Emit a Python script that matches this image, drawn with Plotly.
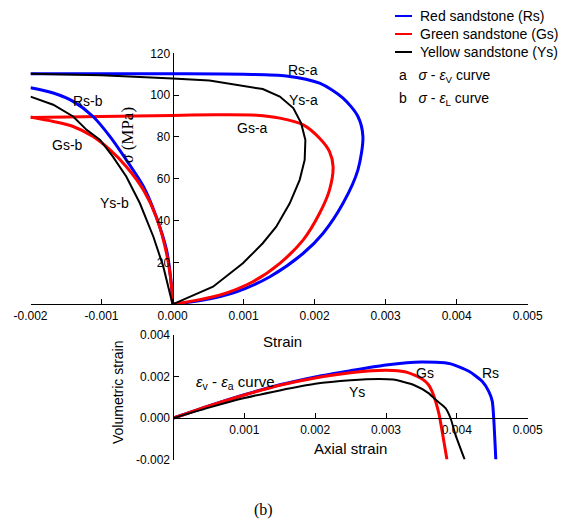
import plotly.graph_objects as go

W, H = 584, 526

# ---------------- data ----------------
# Top: stress vs volumetric strain (a) and lateral strain (b)
rs_a_strain = [0, 0.00043, 0.0009, 0.00137, 0.00184, 0.00212, 0.0024, 0.00261, 0.00268, 0.00261, 0.0024, 0.00207, 0.0016, 0.001, 0.0, -0.001, -0.002]
rs_a_stress = [0, 2, 6, 13.2, 24.4, 34, 48.3, 64.3, 80.2, 89.8, 98.6, 105.7, 109.2, 110.0, 110.2, 110.2, 110.2]

gs_a_strain = [0, 0.00066, 0.00113, 0.00151, 0.00184, 0.00207, 0.00221, 0.00226, 0.00221, 0.00207, 0.00184, 0.00151, 0.00118, 0.0006, 0.0, -0.001, -0.002]
gs_a_stress = [0, 4.4, 10.8, 19.6, 30.8, 43.5, 54.7, 65.8, 73.0, 79.4, 85.8, 89.0, 90.4, 90.6, 90.3, 89.8, 89.3]

ys_a_strain = [0, 0.0002, 0.00057, 0.00099, 0.00127, 0.00146, 0.00165, 0.00179, 0.00186, 0.00187, 0.00181, 0.0017, 0.00151, 0.00127, 0.0009, 0.00052, 0.0, -0.001, -0.002]
ys_a_stress = [0, 2.9, 8.4, 19.6, 29.2, 37.1, 48.3, 59.5, 69.0, 78.6, 86.6, 93.8, 99.3, 102.9, 104.9, 107.0, 108.0, 109.5, 110.2]

rs_b_strain = [0, -0.000014, -0.000085, -0.00023, -0.00041, -0.00065, -0.00088, -0.00112, -0.0014, -0.00168, -0.002]
rs_b_stress = [0, 8.4, 26.0, 41.9, 56.3, 69.0, 80.2, 89.8, 97.0, 101.0, 103.5]

gs_b_strain = [0, -0.000014, -0.000085, -0.00023, -0.00041, -0.00065, -0.00088, -0.00112, -0.0014, -0.00168, -0.002]
gs_b_stress = [0, 8.4, 24.4, 41.9, 54.7, 65.8, 73.8, 80.2, 85.0, 87.4, 89.5]

ys_b_strain = [0, -0.00004, -0.00013, -0.00027, -0.00046, -0.00065, -0.00084, -0.00102, -0.00121, -0.0014, -0.00168, -0.002]
ys_b_stress = [0, 5.3, 18.0, 32.3, 48.3, 61.0, 70.6, 78.6, 83.4, 89.8, 95.4, 99.3]

# Bottom: volumetric strain vs axial strain
rs_ea = [0, 0.0005, 0.001, 0.0015, 0.002, 0.0025, 0.003, 0.0035, 0.0039, 0.00417, 0.00436, 0.00445, 0.0045, 0.00452, 0.00455]
rs_ev = [0, 0.00058, 0.00112, 0.0016, 0.00198, 0.00228, 0.00255, 0.0027, 0.00262, 0.00225, 0.00176, 0.00128, 0.0008, 0.0, -0.002]

gs_ea = [0, 0.0005, 0.001, 0.0015, 0.002, 0.0025, 0.0028, 0.0031, 0.0033, 0.0035, 0.0036, 0.00365, 0.0037, 0.00375, 0.0038, 0.00386]
gs_ev = [0, 0.00058, 0.00111, 0.00158, 0.00193, 0.00218, 0.00228, 0.00229, 0.0022, 0.0019, 0.0016, 0.00128, 0.0008, 0.00016, -0.0008, -0.002]

ys_ea = [0, 0.0005, 0.001, 0.0015, 0.002, 0.0025, 0.0029, 0.0031, 0.0034, 0.0036, 0.0037, 0.00384, 0.00391, 0.00398, 0.00411]
ys_ev = [0, 0.0005, 0.00096, 0.00133, 0.00165, 0.00182, 0.00188, 0.00185, 0.00158, 0.0012, 0.00088, 0.00048, 0.0, -0.0008, -0.002]

series_names = ["Red sandstone (Rs)", "Green sandstone (Gs)", "Yellow sandstone (Ys)"]
series_colors = ["#0000FF", "#FF0000", "#000000"]

top_x_ticks = [-0.002, -0.001, 0.0, 0.001, 0.002, 0.003, 0.004, 0.005]
top_x_labels = ["-0.002", "-0.001", "0.000", "0.001", "0.002", "0.003", "0.004", "0.005"]
top_y_ticks = [20, 40, 60, 80, 100, 120]
top_y_labels = ["20", "40", "60", "80", "100", "120"]
bot_x_ticks = [0.001, 0.002, 0.003, 0.004, 0.005]
bot_x_labels = ["0.001", "0.002", "0.003", "0.004", "0.005"]
bot_y_ticks = [-0.002, 0.0, 0.002, 0.004]
bot_y_labels = ["-0.002", "0.000", "0.002", "0.004"]

# ---------------- helpers ----------------
def P(px):
    return px / W

def Q(py):
    return 1 - py / H

FONT = "Liberation Sans, Arial, sans-serif"
SERIF = "Liberation Serif, Times New Roman, serif"

fig = go.Figure()

top_a = [(rs_a_strain, rs_a_stress), (gs_a_strain, gs_a_stress), (ys_a_strain, ys_a_stress)]
top_b = [(rs_b_strain, rs_b_stress), (gs_b_strain, gs_b_stress), (ys_b_strain, ys_b_stress)]
bottom = [(rs_ea, rs_ev), (gs_ea, gs_ev), (ys_ea, ys_ev)]
widths = [3, 3, 2]
shapes_line = ["spline", "spline", "linear"]

for i in range(3):
    fig.add_trace(go.Scatter(x=top_a[i][0], y=top_a[i][1], mode="lines",
                             line=dict(color=series_colors[i], width=widths[i], shape=shapes_line[i], smoothing=0.8),
                             name=series_names[i], showlegend=False,
                             xaxis="x", yaxis="y"))
for i in range(3):
    fig.add_trace(go.Scatter(x=top_b[i][0], y=top_b[i][1], mode="lines",
                             line=dict(color=series_colors[i], width=widths[i], shape=shapes_line[i], smoothing=0.8),
                             name=series_names[i], showlegend=False, xaxis="x", yaxis="y"))
for i in range(3):
    fig.add_trace(go.Scatter(x=bottom[i][0], y=bottom[i][1], mode="lines",
                             line=dict(color=series_colors[i], width=widths[i], shape="spline", smoothing=0.6),
                             name=series_names[i], showlegend=False, xaxis="x2", yaxis="y2"))

axis_common = dict(showline=True, linecolor="black", linewidth=1.2, ticks="inside", ticklen=5,
                   tickcolor="black", tickwidth=1.2, showgrid=False, zeroline=False, automargin=False,
                   tickfont=dict(family=FONT, size=12, color="black"))

fig.update_layout(
    width=W, height=H,
    margin=dict(l=0, r=0, t=0, b=0, pad=0),
    paper_bgcolor="white", plot_bgcolor="rgba(0,0,0,0)",
    font=dict(family=FONT, size=12, color="black"),
    showlegend=False,
    xaxis=dict(domain=[P(30.5), P(527.7)], range=[-0.002, 0.005], anchor="y",
               tickvals=top_x_ticks, ticktext=top_x_labels, **axis_common),
    yaxis=dict(domain=[Q(304.3), Q(53.3)], range=[0, 120], anchor="free", position=P(172.7),
               tickvals=top_y_ticks, ticktext=top_y_labels, **axis_common),
    xaxis2=dict(domain=[P(173.5), P(527.7)], range=[0, 0.005], anchor="free", position=Q(418.3),
                tickvals=bot_x_ticks, ticktext=bot_x_labels, **axis_common),
    yaxis2=dict(domain=[Q(459.5), Q(335)], range=[-0.002, 0.004], anchor="x2",
                tickvals=bot_y_ticks, ticktext=bot_y_labels, **axis_common),
)

def ann(text, px, py, size=14, family=FONT, xanchor="center", angle=0):
    fig.add_annotation(text=text, x=P(px), y=Q(py), xref="paper", yref="paper",
                       showarrow=False, xanchor=xanchor, yanchor="middle", textangle=angle,
                       font=dict(family=family, size=size, color="black"))

# legend (manual)
legend_rows_y = [16, 34, 52]
for name, color, ry in zip(series_names, series_colors, legend_rows_y):
    fig.add_shape(type="line", xref="paper", yref="paper",
                  x0=P(395), x1=P(412), y0=Q(ry), y1=Q(ry),
                  line=dict(color=color, width=2))
    ann(name, 418, ry, size=14, xanchor="left")

ann("a&nbsp;&nbsp;&nbsp;<i>σ</i> - <i>ε</i><sub>V</sub> curve", 397, 76, size=14, xanchor="left")
ann("b&nbsp;&nbsp;&nbsp;<i>σ</i> - <i>ε</i><sub>L</sub> curve", 397, 99, size=14, xanchor="left")

# curve labels, top
ann("Rs-a", 303, 70)
ann("Ys-a", 303, 100)
ann("Gs-a", 252, 128)
ann("Rs-b", 88, 101)
ann("Gs-b", 67, 145)
ann("Ys-b", 114, 203)

# axis titles
ann("<i>σ</i> (MPa)", 128, 135, size=17, family=SERIF, angle=-90)
ann("Strain", 282, 341, size=15)
ann("Axial strain", 350, 448, size=15)
ann("Volumetric strain", 118, 393, size=14, angle=-90)

# bottom labels
ann("<i>ε</i><sub>v</sub> - <i>ε</i><sub>a</sub> curve", 235, 382, size=15)
ann("Ys", 357, 392)
ann("Gs", 425, 373)
ann("Rs", 490, 373)

# caption
ann("(b)", 263, 510, size=16, family=SERIF)

fig.write_html("out.html")
